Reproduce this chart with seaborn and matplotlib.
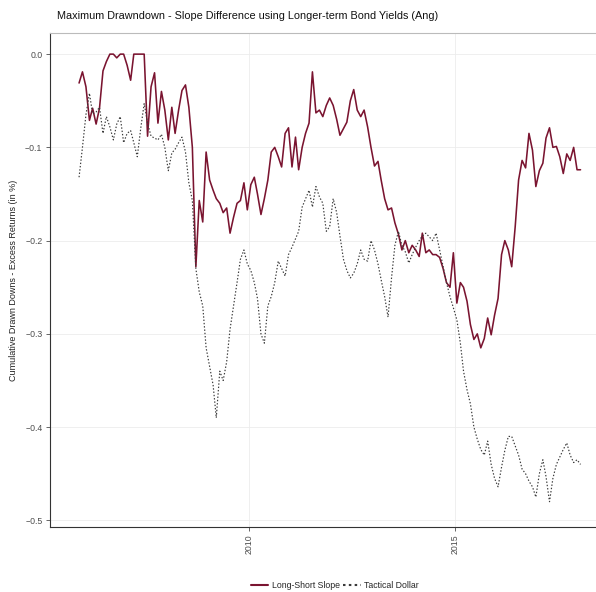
import pandas as pd
import matplotlib.pyplot as plt
import matplotlib.dates as mdates
import seaborn as sns

# monthly readings, Nov 2005 .. Jan 2018
dates = pd.date_range("2005-11-15", periods=147, freq=pd.DateOffset(months=1))

long_short_slope = [
    -0.031, -0.019, -0.035, -0.071, -0.058, -0.075, -0.058, -0.018, -0.008, 0.0,
    0.0, -0.004, 0.0, 0.0, -0.012, -0.028, 0.0, 0.0, 0.0, 0.0,
    -0.088, -0.035, -0.02, -0.074, -0.04, -0.06, -0.092, -0.057, -0.085, -0.06,
    -0.039, -0.033, -0.057, -0.1, -0.228, -0.157, -0.18, -0.105, -0.135, -0.146,
    -0.155, -0.16, -0.17, -0.165, -0.192, -0.175, -0.16, -0.157, -0.138, -0.167,
    -0.14, -0.132, -0.15, -0.172, -0.155, -0.135, -0.105, -0.1, -0.11, -0.121,
    -0.085, -0.079, -0.121, -0.089, -0.124, -0.1, -0.085, -0.074, -0.019, -0.063,
    -0.06, -0.067, -0.055, -0.047, -0.055, -0.07, -0.087, -0.08, -0.073, -0.05,
    -0.038, -0.06, -0.067, -0.06, -0.078, -0.1, -0.12, -0.115, -0.135, -0.155,
    -0.167, -0.165, -0.181, -0.193, -0.21, -0.2, -0.213, -0.205, -0.21, -0.217,
    -0.192, -0.213, -0.21, -0.215, -0.215, -0.218, -0.23, -0.245, -0.25, -0.213,
    -0.267, -0.245, -0.25, -0.265, -0.29, -0.306, -0.3, -0.315, -0.305, -0.283,
    -0.301, -0.28, -0.262, -0.215, -0.2, -0.21, -0.228, -0.185, -0.135, -0.114,
    -0.122, -0.085, -0.103, -0.142, -0.125, -0.117, -0.09, -0.079, -0.1, -0.099,
    -0.11, -0.128, -0.107, -0.114, -0.1, -0.124, -0.124,
]

tactical_dollar = [
    -0.132, -0.1, -0.065, -0.042, -0.064, -0.062, -0.057, -0.085, -0.067, -0.078,
    -0.092, -0.075, -0.067, -0.095, -0.085, -0.082, -0.095, -0.11, -0.08, -0.053,
    -0.074, -0.088, -0.09, -0.092, -0.086, -0.1, -0.125, -0.106, -0.102, -0.095,
    -0.089, -0.105, -0.138, -0.157, -0.23, -0.255, -0.27, -0.315, -0.335, -0.355,
    -0.39, -0.34, -0.35, -0.33, -0.295, -0.27, -0.245, -0.22, -0.21, -0.225,
    -0.232, -0.245, -0.262, -0.3, -0.31, -0.27, -0.26, -0.245, -0.222, -0.23,
    -0.238, -0.215, -0.207, -0.198, -0.19, -0.164, -0.155, -0.146, -0.164, -0.142,
    -0.153, -0.16, -0.19, -0.185, -0.155, -0.17, -0.195, -0.22, -0.232, -0.24,
    -0.235, -0.225, -0.21, -0.22, -0.222, -0.2, -0.21, -0.225, -0.242, -0.26,
    -0.282, -0.24, -0.205, -0.19, -0.205, -0.212, -0.224, -0.215, -0.207, -0.2,
    -0.195, -0.192, -0.196, -0.2, -0.192, -0.21, -0.228, -0.245, -0.26, -0.272,
    -0.285, -0.31, -0.34, -0.36, -0.375, -0.4, -0.413, -0.424, -0.43, -0.415,
    -0.44, -0.455, -0.464, -0.443, -0.425, -0.41, -0.41, -0.42, -0.43, -0.445,
    -0.45, -0.458, -0.464, -0.475, -0.45, -0.435, -0.453, -0.48, -0.455, -0.44,
    -0.432, -0.424, -0.417, -0.43, -0.438, -0.435, -0.44,
]

series_names = ["Long-Short Slope", "Tactical Dollar"]

df = pd.DataFrame({"date": dates,
                   series_names[0]: long_short_slope,
                   series_names[1]: tactical_dollar})
df = df.melt(id_vars="date", var_name="series", value_name="value")

sns.set_theme(style="ticks")
plt.rcParams["font.family"] = ["Liberation Sans", "DejaVu Sans"]

fig = plt.figure(figsize=(5.96, 5.92), dpi=100)
ax = fig.add_axes([0.084, 0.110, 0.916, 0.834])

sns.lineplot(data=df, x="date", y="value", hue="series", style="series",
             palette={series_names[0]: "#7a1430", series_names[1]: "#3a3a3a"},
             dashes={series_names[0]: "", series_names[1]: (1.2, 1.6)},
             ax=ax)
for line, lw in zip(ax.lines, [1.15, 0.85]):
    line.set_linewidth(lw)

ax.set_xlim(pd.Timestamp("2005-03-03"), pd.Timestamp("2018-06-01"))
ax.set_ylim(-0.507, 0.0225)
ax.set_yticks([0.0, -0.1, -0.2, -0.3, -0.4, -0.5])
ax.xaxis.set_major_locator(mdates.YearLocator(5))
ax.xaxis.set_major_formatter(mdates.DateFormatter("%Y"))
plt.setp(ax.get_xticklabels(), rotation=90)
ax.tick_params(labelsize=6.3, colors="#4d4d4d", length=3, width=0.6, pad=2.5)
ax.grid(True, color="#ececec", linewidth=0.6)

for side in ["left", "bottom"]:
    ax.spines[side].set_color("#333333")
    ax.spines[side].set_linewidth(0.8)
ax.spines["top"].set_color("#bbbbbb")
ax.spines["top"].set_linewidth(0.8)
ax.spines["right"].set_visible(False)

ax.set_xlabel("")
ax.set_ylabel("Cumulative Drawn Downs - Excess Returns (in %)", fontsize=6.5, color="#222222")
ax.yaxis.set_label_coords(-0.059, 0.5)

fig.text(0.096, 0.973, "Maximum Drawndown - Slope Difference using Longer-term Bond Yields (Ang)",
         fontsize=7.8, color="#111111", va="center", ha="left")

handles, labels = ax.get_legend_handles_labels()
ax.get_legend().remove()
fig.legend(handles, labels, loc="center", bbox_to_anchor=(0.562, 0.011), ncol=2,
           frameon=False, fontsize=6.3, handlelength=2.0, columnspacing=0.4,
           handletextpad=0.4)

plt.savefig("out.png", dpi=100)
